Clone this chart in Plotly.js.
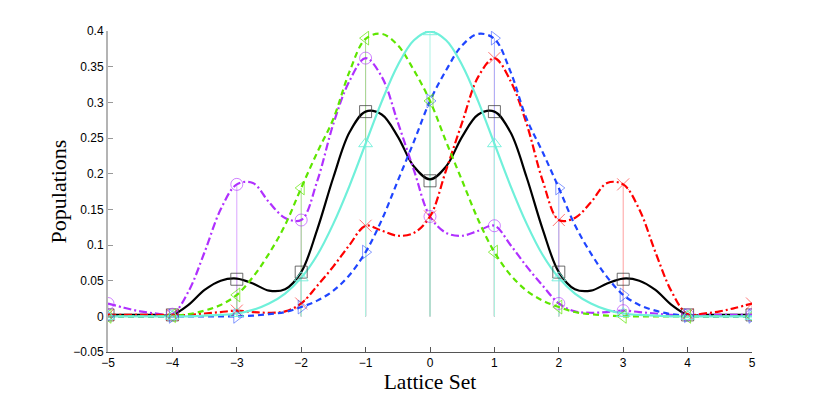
<!DOCTYPE html>
<html>
<head>
<meta charset="utf-8">
<script src="https://cdn.plot.ly/plotly-3.0.1.min.js"></script>
<style>
  html, body { margin: 0; padding: 0; background: #fff; }
  #chart { width: 830px; height: 397px; }
</style>
</head>
<body>
<div id="chart"></div>
<script>
/* -------------------- DATA -------------------- */

// lattice sites (markers + stems)
const sites = [-5, -4, -3, -2, -1, 0, 1, 2, 3, 4, 5];

const blackPts  = [0.002, 0.002, 0.052, 0.062, 0.287, 0.190, 0.287, 0.062, 0.052, 0.002, 0.002];
const cyanPts   = [0.000, 0.000, 0.004, 0.054, 0.242, 0.399, 0.242, 0.054, 0.004, 0.000, 0.000];
const greenPts  = [0.000, 0.001, 0.030, 0.180, 0.390, 0.302, 0.090, 0.013, 0.000, 0.000, 0.000];
const bluePts   = [0.000, 0.000, 0.000, 0.013, 0.090, 0.302, 0.390, 0.180, 0.030, 0.001, 0.000];
const purplePts = [0.018, 0.003, 0.185, 0.135, 0.362, 0.140, 0.127, 0.018, 0.008, 0.002, 0.002];
const redPts    = [0.002, 0.002, 0.008, 0.018, 0.127, 0.140, 0.362, 0.135, 0.185, 0.003, 0.018];

// smooth curves, read at quarter steps
const curveX = [-5, -4.75, -4.5, -4.25, -4, -3.75, -3.5, -3.25, -3, -2.75, -2.5, -2.25, -2, -1.75, -1.5, -1.25, -1, -0.75, -0.5, -0.25,
                0, 0.25, 0.5, 0.75, 1, 1.25, 1.5, 1.75, 2, 2.25, 2.5, 2.75, 3, 3.25, 3.5, 3.75, 4, 4.25, 4.5, 4.75, 5];

const blackCurve = [0.002, 0.002, 0.002, 0.002, 0.002, 0.016, 0.037, 0.050, 0.053, 0.046, 0.036, 0.038, 0.062, 0.122, 0.195, 0.258, 0.287, 0.283, 0.252, 0.210,
                    0.192, 0.210, 0.252, 0.283, 0.287, 0.258, 0.195, 0.122, 0.062, 0.038, 0.036, 0.046, 0.053, 0.050, 0.037, 0.016, 0.002, 0.002, 0.002, 0.002, 0.002];
const cyanCurve = [0.000, 0.000, 0.000, 0.000, 0.000, 0.000, 0.001, 0.002, 0.004, 0.009, 0.018, 0.032, 0.054, 0.086, 0.130, 0.183, 0.242, 0.301, 0.352, 0.387,
                   0.399, 0.387, 0.352, 0.301, 0.242, 0.183, 0.130, 0.086, 0.054, 0.032, 0.018, 0.009, 0.004, 0.002, 0.001, 0.000, 0.000, 0.000, 0.000, 0.000, 0.000];
const greenCurve = [0.000, 0.000, 0.000, 0.000, 0.001, 0.003, 0.008, 0.016, 0.030, 0.055, 0.088, 0.128, 0.180, 0.230, 0.277, 0.343, 0.389, 0.396, 0.380, 0.345,
                    0.302, 0.245, 0.190, 0.135, 0.090, 0.058, 0.036, 0.022, 0.013, 0.006, 0.003, 0.001, 0.000, 0.000, 0.000, 0.000, 0.000, 0.000, 0.000, 0.000, 0.000];
const blueCurve = [0.000, 0.000, 0.000, 0.000, 0.000, 0.000, 0.000, 0.000, 0.000, 0.001, 0.003, 0.006, 0.013, 0.022, 0.036, 0.058, 0.090, 0.135, 0.190, 0.245,
                   0.302, 0.345, 0.380, 0.396, 0.389, 0.343, 0.277, 0.230, 0.180, 0.128, 0.088, 0.055, 0.030, 0.016, 0.008, 0.003, 0.001, 0.000, 0.000, 0.000, 0.000];
const purpleCurve = [0.018, 0.012, 0.007, 0.004, 0.003, 0.035, 0.090, 0.150, 0.185, 0.187, 0.160, 0.138, 0.135, 0.190, 0.270, 0.330, 0.362, 0.336, 0.272, 0.205,
                     0.140, 0.117, 0.113, 0.120, 0.127, 0.100, 0.070, 0.043, 0.018, 0.007, 0.005, 0.006, 0.008, 0.006, 0.004, 0.002, 0.002, 0.002, 0.002, 0.002, 0.002];
const redCurve = [0.002, 0.002, 0.002, 0.002, 0.002, 0.002, 0.004, 0.006, 0.008, 0.006, 0.005, 0.007, 0.018, 0.043, 0.070, 0.100, 0.127, 0.120, 0.113, 0.117,
                  0.140, 0.205, 0.272, 0.336, 0.362, 0.330, 0.270, 0.190, 0.135, 0.138, 0.160, 0.187, 0.185, 0.150, 0.090, 0.035, 0.003, 0.004, 0.007, 0.012, 0.018];

const xTickVals = [-5, -4, -3, -2, -1, 0, 1, 2, 3, 4, 5];
const yTickVals = [-0.05, 0, 0.05, 0.1, 0.15, 0.2, 0.25, 0.3, 0.35, 0.4];
const yTickText = ['\u22120.05', '0', '0.05', '0.1', '0.15', '0.2', '0.25', '0.3', '0.35', '0.4'];

/* -------------------- TRACES -------------------- */

// stem order matters: later stems cover earlier ones
const series = [
  { pts: blackPts,  curve: blackCurve,  color: '#000000', mark: 'rgba(60,60,60,0.75)',   stem: '#c4c4c4', symbol: 'square-open',         dash: 'solid' },
  { pts: purplePts, curve: purpleCurve, color: '#b030ff', mark: 'rgba(176,48,255,0.6)',  stem: '#dba6ff', symbol: 'circle-open',         dash: '8px,3px,2px,3px' },
  { pts: redPts,    curve: redCurve,    color: '#ff0000', mark: 'rgba(255,0,0,0.55)',    stem: '#ffa0a0', symbol: 'x-thin-open',         dash: '8px,3px,2px,3px' },
  { pts: bluePts,   curve: blueCurve,   color: '#1f45ff', mark: 'rgba(31,69,255,0.55)',  stem: '#a8b0ff', symbol: 'triangle-right-open', dash: '6px,4px' },
  { pts: greenPts,  curve: greenCurve,  color: '#5ee600', mark: 'rgba(94,230,0,0.7)',    stem: '#a6dc8c', symbol: 'triangle-left-open',  dash: '6px,4px' },
  { pts: cyanPts,   curve: cyanCurve,   color: '#6ff0da', mark: 'rgba(111,240,218,0.9)', stem: '#aef3e6', symbol: 'triangle-up-open',    dash: 'solid' }
];

const traces = [];

// stems (error bars down to zero)
series.forEach(s => {
  traces.push({
    x: sites, y: s.pts, mode: 'markers', hoverinfo: 'skip',
    marker: { size: 0, opacity: 0 },
    error_y: {
      type: 'data', symmetric: false,
      array: s.pts.map(() => 0), arrayminus: s.pts,
      width: 0, thickness: 1, color: s.stem
    }
  });
});

// curves
series.forEach(s => {
  traces.push({
    x: curveX, y: s.curve, mode: 'lines', hoverinfo: 'skip',
    line: { color: s.color, width: 2.2, dash: s.dash, shape: 'spline', smoothing: 1 }
  });
});

// markers
series.forEach(s => {
  traces.push({
    x: sites, y: s.pts, mode: 'markers',
    marker: { symbol: s.symbol, size: 12, color: s.mark, line: { color: s.mark, width: 1 } }
  });
});

/* -------------------- LAYOUT -------------------- */

const layout = {
  width: 830, height: 397,
  margin: { l: 108, r: 78, t: 31, b: 45 },
  paper_bgcolor: '#fff', plot_bgcolor: '#fff',
  showlegend: false,
  font: { family: 'Liberation Sans, Arial, sans-serif', size: 12, color: '#000' },
  xaxis: {
    range: [-5, 5], tickvals: xTickVals,
    ticks: 'inside', ticklen: 5, tickcolor: '#555', tickwidth: 1,
    showline: true, linecolor: '#555', linewidth: 1,
    showgrid: false, zeroline: false,
    tickfont: { size: 12 },
    title: { text: 'Lattice Set', font: { family: 'Liberation Serif, DejaVu Serif, serif', size: 21.5 }, standoff: 3 }
  },
  yaxis: {
    range: [-0.05, 0.4], tickvals: yTickVals, ticktext: yTickText,
    ticks: 'inside', ticklen: 5, tickcolor: '#999', tickwidth: 1,
    showline: true, linecolor: '#b4b4b4', linewidth: 2,
    showgrid: false, zeroline: false,
    tickfont: { size: 12 },
    title: { text: 'Populations', font: { family: 'Liberation Serif, DejaVu Serif, serif', size: 22 }, standoff: 1 }
  }
};

Plotly.newPlot('chart', traces, layout, { displayModeBar: false, staticPlot: true });
</script>
</body>
</html>
